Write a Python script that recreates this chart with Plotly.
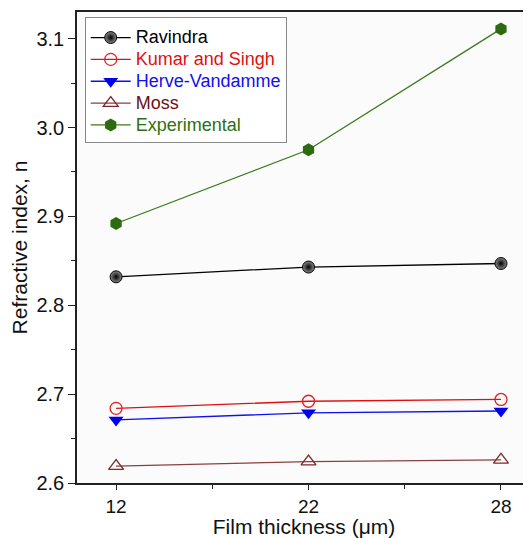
import plotly.graph_objects as go

thickness = ["12", "22", "28"]
ravindra = [2.832, 2.843, 2.847]
kumar_singh = [2.684, 2.692, 2.694]
herve_vandamme = [2.671, 2.679, 2.681]
moss = [2.619, 2.624, 2.626]
experimental = [2.892, 2.975, 3.111]

xpos = list(range(len(thickness)))

series = [
    ("Ravindra", ravindra, "#000000", "#000000",
     dict(symbol="circle", size=12, color="#8a8a8a",
          gradient=dict(type="radial", color="#000000"), line=dict(width=1, color="#000000"))),
    ("Kumar and Singh", kumar_singh, "#e01010", "#e01010",
     dict(symbol="circle-open", size=12, color="#e02020", line=dict(width=1.3))),
    ("Herve-Vandamme", herve_vandamme, "#1010f0", "#1010f0",
     dict(symbol="triangle-down", size=13, color="#0000f0")),
    ("Moss", moss, "#8a4040", "#6a1010",
     dict(symbol="triangle-up-open", size=13, color="#7a2a2a", line=dict(width=1.3))),
    ("Experimental", experimental, "#3a7a1a", "#2e7010",
     dict(symbol="hexagon", size=13, color="#2e6a10")),
]

fig = go.Figure()
for name, vals, lc, tc, mk in series:
    fig.add_trace(go.Scatter(
        x=xpos, y=vals,
        name=f"<span style='color:{tc};font-size:18px'>{name}</span>",
        mode="lines+markers",
        line=dict(color=lc, width=1.3), marker=mk,
    ))

# the page body adds an 8px offset, so the figure is 8px smaller than the window
fig.update_layout(
    width=523, height=530,
    margin=dict(l=69, r=0, t=4, b=55, autoexpand=False),
    paper_bgcolor="white",
    plot_bgcolor="#fbfbfb",
    font=dict(family="Liberation Sans, Arial, sans-serif", size=18, color="#111"),
    showlegend=True,
    legend=dict(
        x=0.017, y=0.990, xanchor="left", yanchor="top",
        bgcolor="white", bordercolor="#888", borderwidth=1,
        font=dict(size=14.5), tracegroupgap=0, itemwidth=40,
        title=dict(text=" ", font=dict(size=3)),
    ),
    xaxis=dict(
        range=[-0.203, 2.156],
        tickmode="array", tickvals=xpos, ticktext=thickness,
        ticks="outside", ticklen=5, tickwidth=1.3, tickcolor="#222",
        minor=dict(dtick=0.5, tick0=0, ticks="outside", ticklen=4, tickcolor="#222"),
        showline=True, linecolor="#222", linewidth=1.5, mirror=True,
        showgrid=False, zeroline=False, automargin=False,
        title=dict(text="Film thickness (μm)", standoff=4, font=dict(size=21)),
        tickfont=dict(size=19),
    ),
    yaxis=dict(
        range=[2.6, 3.13],
        tickmode="array", tickvals=[2.6, 2.7, 2.8, 2.9, 3.0, 3.1],
        ticktext=["2.6", "2.7", "2.8", "2.9", "3.0", "3.1"],
        ticks="outside", ticklen=7, tickwidth=1.3, tickcolor="#222",
        minor=dict(dtick=0.05, tick0=2.6, ticks="outside", ticklen=4, tickcolor="#222"),
        showline=True, linecolor="#222", linewidth=1.5, mirror=False,
        showgrid=False, zeroline=False, automargin=False,
        title=dict(text="Refractive index, n", standoff=4, font=dict(size=21)),
        tickfont=dict(size=20),
    ),
)

fig.write_html("out.html")
